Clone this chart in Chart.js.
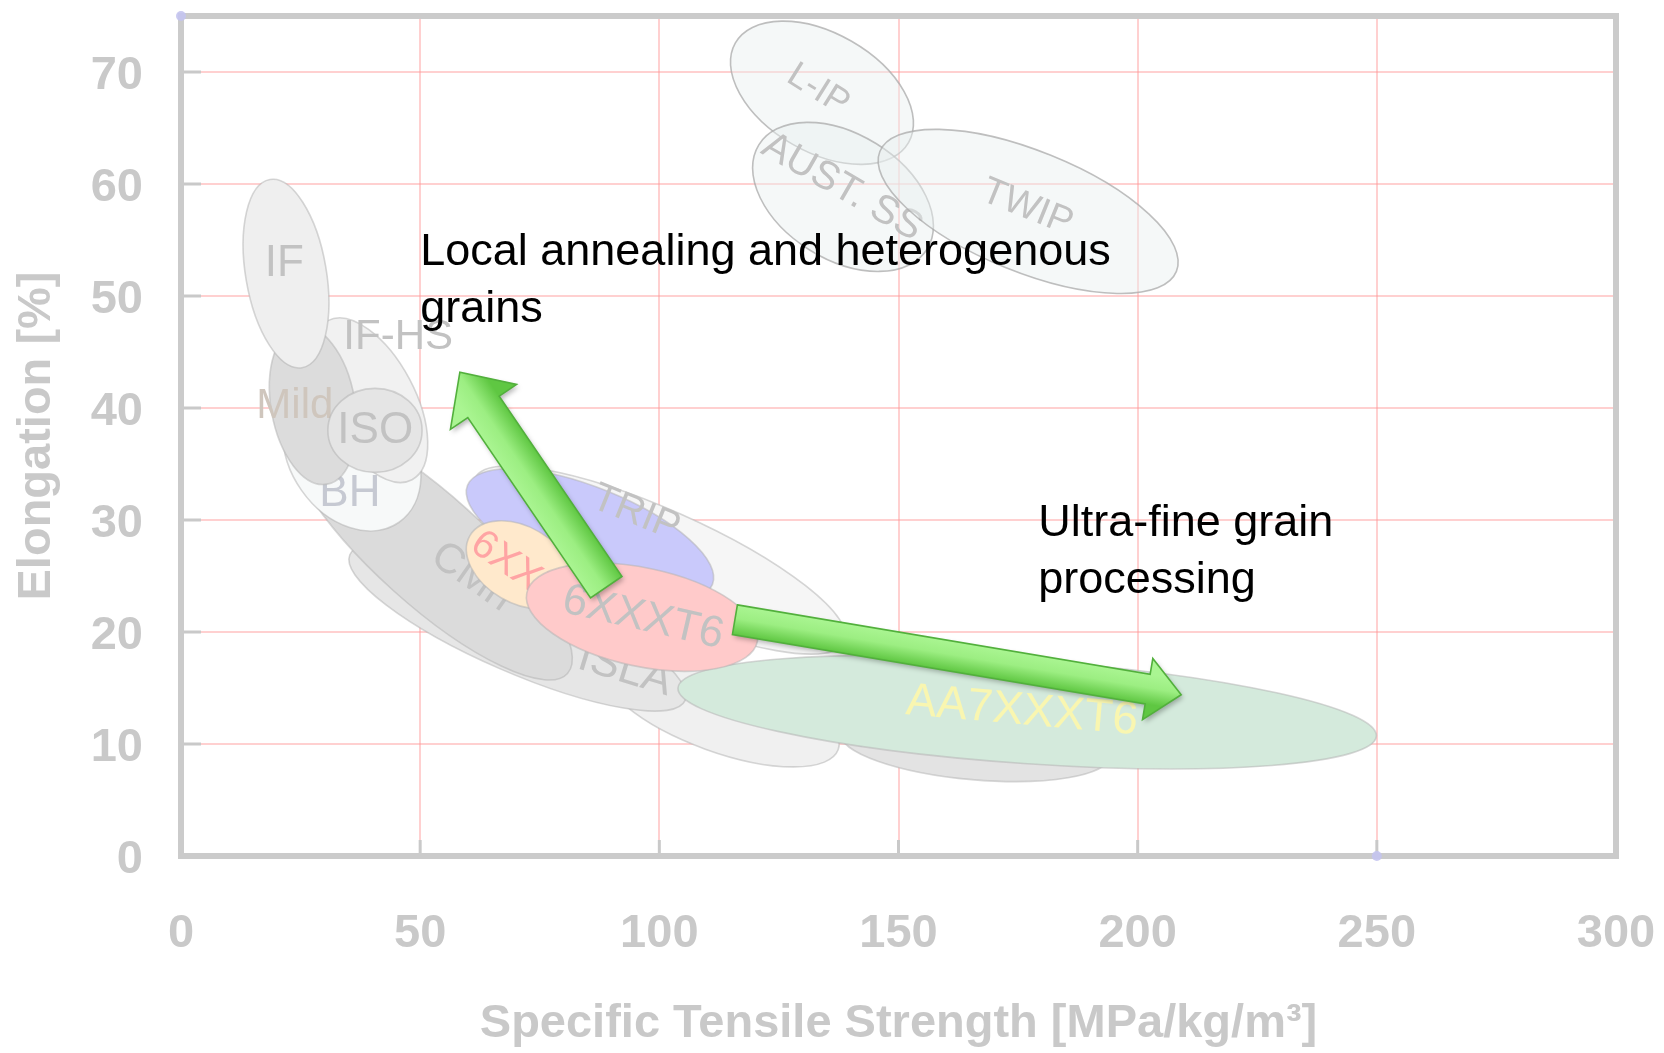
<!DOCTYPE html>
<html>
<head>
<meta charset="utf-8">
<script src="https://cdn.jsdelivr.net/npm/chart.js@4.4.1/dist/chart.umd.min.js"></script>
<style>
html,body{margin:0;padding:0;background:#fff;overflow:hidden;}
canvas{display:block;}
</style>
</head>
<body>
<canvas id="c" width="1664" height="1053" style="width:1664px;height:1053px"></canvas>
<script>
// ---------------- DATA ----------------
// Axis ticks
const xTicks = [0, 50, 100, 150, 200, 250, 300];
const yTicks = [0, 10, 20, 30, 40, 50, 60, 70];
const xTitle = 'Specific Tensile Strength [MPa/kg/m\u00B3]';
const yTitle = 'Elongation [%]';

// Stray series markers visible on the frame
const markerX = [0, 250];
const markerY = [75, 0];

// Property regions (ellipses): major-axis end points in data units
// (strength, elongation) and minor half-width in elongation units.
const regionNames = ['L-IP','AUST. SS','TWIP','MART','DP','HSS','ISLA','CMn','BH','IF-HS','Mild','IF','ISO','TRIP','6XXXT4','AA7XXXT6','6XXXT6'];
const regionX1 = [115.9, 120.8, 146.1, 137.9,  88.2,  61.5,  35.3, 23.3, 25.9, 30.7, 24.7, 18.6, 30.7,  59.9, 60.4, 103.9,  72.3];
const regionY1 = [ 72.6,  63.5,  62.9,  10.96, 17.1,  33.75, 26.9, 38.4, 41.8, 47.8, 47.3, 60.4, 38.0,  33.1, 28.6,  15.0,  23.5];
const regionX2 = [152.1, 156.0, 208.1, 194.1, 137.4, 138.8, 105.4, 80.8, 45.6, 48.3, 30.5, 25.3, 50.4, 111.1, 81.4, 249.9, 120.5];
const regionY2 = [ 63.7,  54.2,  52.2,   8.86,  9.5,  19.1,  13.9, 16.3, 29.8, 33.6, 33.2, 43.6, 38.0,  24.25,23.4,  10.7,  19.15];
const regionHalfWidth = [5.3, 5.6, 5.4, 3.1, 4.0, 4.5, 4.0, 4.9, 5.5, 4.0, 3.75, 3.6, 3.75, 4.2, 3.4, 4.6, 4.4];

// Region labels
const labelText  = ['L-IP','AUST. SS','TWIP','MART','ISLA','CMn','BH','IF-HS','Mild','IF','ISO','TRIP','6XXXT4','AA7XXXT6','6XXXT6'];
const labelX     = [133.2, 138.2, 176.9, 150.3, 92.8, 60.8, 35.3, 45.4, 23.8, 21.6, 40.6, 95.1, 74.2, 175.8, 96.6];
const labelY     = [ 68.4,  59.7,  57.9,  10.2, 16.6, 24.9, 32.3, 46.3, 40.1, 52.9, 38.0, 30.6, 24.4,  12.9, 21.25];
const labelAngle = [ 32, 30, 22, 5, 17, 35, 0, 0, 0, 0, 0, 22, 35, 5, 13];
const labelRegion = ['L-IP','AUST. SS','TWIP','MART','ISLA','CMn','BH','IF-HS','Mild','IF','ISO','TRIP','6XXXT4','AA7XXXT6','6XXXT6'];

// Annotation arrows (tail -> tip) in data units
const arrowTailX = [88.9, 115.8];
const arrowTailY = [24.0, 21.1];
const arrowTipX  = [58.3, 209.1];
const arrowTipY  = [43.2, 14.4];

// Annotation texts (anchor = first line baseline, data units)
const noteLines = [['Local annealing and heterogenous','grains'], ['Ultra-fine grain','processing']];
const noteX = [50, 179.2];
const noteY = [52.8, 28.6];

// ---------------- STYLES ----------------
const regionFill = {
  'L-IP':'rgba(232,240,240,0.45)','AUST. SS':'rgba(232,240,240,0.45)','TWIP':'rgba(232,240,240,0.45)',
  'MART':'#e3e3e3','DP':'#f0f0f0','HSS':'#f6f6f6','ISLA':'#e6e6e6','CMn':'#dbdbdb','BH':'#f7f9f9',
  'IF-HS':'#f1f1f1','Mild':'#dcdcdc','IF':'#efefef','ISO':'#e5e5e5','TRIP':'#c9c9fb','6XXXT4':'#ffe9cc',
  'AA7XXXT6':'#d4eadc','6XXXT6':'#ffcaca'
};
const regionStroke = {
  'L-IP':'rgba(170,170,170,0.75)','AUST. SS':'rgba(170,170,170,0.75)','TWIP':'rgba(170,170,170,0.75)'
};
const labelColor = {
  'Mild':'#cfc6bd','BH':'#c6c9d2','6XXXT4':'#ffa4a4','AA7XXXT6':'#f9f6b0','MART':'#c8c8d4'
};
const labelSize = {
  'L-IP':36,'AUST. SS':40,'TWIP':38,'MART':30,'ISLA':44,'CMn':42,'BH':44,'IF-HS':42,'Mild':42,'IF':44,'ISO':44,
  'TRIP':40,'6XXXT4':40,'AA7XXXT6':46,'6XXXT6':44
};
const GREY = '#c9c9c9';
const FONT = "'Liberation Sans', Arial, sans-serif";

// ---------------- DRAWING PLUGIN ----------------
function px(chart, x, y) {
  return [chart.scales.x.getPixelForValue(x), chart.scales.y.getPixelForValue(y)];
}

function drawRegion(chart, i) {
  const ctx = chart.ctx;
  const ys = chart.scales.y;
  const [ax, ay] = px(chart, regionX1[i], regionY1[i]);
  const [bx, by] = px(chart, regionX2[i], regionY2[i]);
  const cx = (ax + bx) / 2, cy = (ay + by) / 2;
  const a = Math.hypot(bx - ax, by - ay) / 2;
  const b = Math.abs(ys.getPixelForValue(0) - ys.getPixelForValue(regionHalfWidth[i]));
  const ang = Math.atan2(by - ay, bx - ax);
  const name = regionNames[i];
  ctx.save();
  ctx.beginPath();
  ctx.ellipse(cx, cy, a, b, ang, 0, Math.PI * 2);
  ctx.fillStyle = regionFill[name];
  ctx.fill();
  ctx.lineWidth = 1.6;
  ctx.strokeStyle = regionStroke[name] || 'rgba(180,180,180,0.55)';
  ctx.stroke();
  ctx.restore();
}

function drawLabel(chart, j) {
  const ctx = chart.ctx;
  const [x, y] = px(chart, labelX[j], labelY[j]);
  const t = labelText[j];
  ctx.save();
  ctx.translate(x, y);
  ctx.rotate(labelAngle[j] * Math.PI / 180);
  ctx.font = (labelSize[t] || 40) + 'px ' + FONT;
  ctx.fillStyle = labelColor[t] || '#c2c2c2';
  ctx.textAlign = 'center';
  ctx.textBaseline = 'middle';
  ctx.fillText(t, 0, 0);
  ctx.restore();
}

function drawArrow(chart, k, shaftW, headW, headL) {
  const ctx = chart.ctx;
  const [x1, y1] = px(chart, arrowTailX[k], arrowTailY[k]);
  const [x2, y2] = px(chart, arrowTipX[k], arrowTipY[k]);
  const ang = Math.atan2(y2 - y1, x2 - x1);
  const len = Math.hypot(x2 - x1, y2 - y1);
  ctx.save();
  ctx.translate(x1, y1);
  ctx.rotate(ang);
  ctx.beginPath();
  ctx.moveTo(0, -shaftW / 2);
  ctx.lineTo(len - headL, -shaftW / 2);
  ctx.lineTo(len - headL, -headW / 2);
  ctx.lineTo(len, 0);
  ctx.lineTo(len - headL, headW / 2);
  ctx.lineTo(len - headL, shaftW / 2);
  ctx.lineTo(0, shaftW / 2);
  ctx.closePath();
  const g = ctx.createLinearGradient(0, -shaftW / 2, 0, shaftW / 2);
  g.addColorStop(0, '#aaf592');
  g.addColorStop(0.45, '#9cee82');
  g.addColorStop(1, '#5fc742');
  ctx.shadowColor = 'rgba(0,0,0,0.28)';
  ctx.shadowBlur = 5;
  ctx.shadowOffsetX = 2;
  ctx.shadowOffsetY = 3;
  ctx.fillStyle = g;
  ctx.fill();
  ctx.shadowColor = 'transparent';
  ctx.lineWidth = 1.6;
  ctx.strokeStyle = '#52b03c';
  ctx.lineJoin = 'miter';
  ctx.stroke();
  ctx.restore();
}

const figurePlugin = {
  id: 'figure',
  beforeDatasetsDraw(chart) {
    const ctx = chart.ctx;
    const ca = chart.chartArea;
    const xs = chart.scales.x, ys = chart.scales.y;
    // inner tick marks
    ctx.save();
    ctx.strokeStyle = GREY;
    ctx.lineWidth = 3;
    yTicks.forEach(v => {
      const y = ys.getPixelForValue(v);
      ctx.beginPath(); ctx.moveTo(ca.left, y); ctx.lineTo(ca.left + 20, y); ctx.stroke();
    });
    xTicks.forEach(v => {
      const x = xs.getPixelForValue(v);
      ctx.beginPath(); ctx.moveTo(x, ca.bottom); ctx.lineTo(x, ca.bottom - 16); ctx.stroke();
    });
    // frame
    ctx.lineWidth = 6;
    ctx.strokeStyle = '#cbcbcb';
    ctx.strokeRect(ca.left, ca.top, ca.right - ca.left, ca.bottom - ca.top);
    ctx.restore();

    // regions and labels
    for (let i = 0; i < regionNames.length; i++) {
      drawRegion(chart, i);
      labelRegion.forEach((r, j) => { if (r === regionNames[i]) drawLabel(chart, j); });
    }
  },
  afterDatasetsDraw(chart) {
    const ctx = chart.ctx;
    drawArrow(chart, 0, 38, 80, 42);
    drawArrow(chart, 1, 30, 62, 34);
    ctx.save();
    ctx.font = '45px ' + FONT;
    ctx.fillStyle = '#000';
    ctx.textAlign = 'left';
    ctx.textBaseline = 'alphabetic';
    noteLines.forEach((lines, k) => {
      const [x, y] = px(chart, noteX[k], noteY[k]);
      lines.forEach((ln, m) => ctx.fillText(ln, x, y + m * 57));
    });
    ctx.restore();
  }
};

// ---------------- CHART ----------------
new Chart(document.getElementById('c'), {
  type: 'scatter',
  data: {
    datasets: [{
      data: markerX.map((x, i) => ({ x: x, y: markerY[i] })),
      pointRadius: 5,
      pointBackgroundColor: 'rgba(196,196,240,0.9)',
      pointBorderWidth: 0,
      clip: false
    }]
  },
  options: {
    responsive: false,
    animation: false,
    devicePixelRatio: 1,
    layout: { padding: { top: 16, right: 48, left: 0, bottom: 0 } },
    plugins: { legend: { display: false }, tooltip: { enabled: false } },
    scales: {
      x: {
        type: 'linear', min: xTicks[0], max: xTicks[xTicks.length - 1],
        afterBuildTicks(s) { s.ticks = xTicks.map(v => ({ value: v })); },
        afterFit(s) { s.height = 197; s.paddingLeft = 0; s.paddingRight = 0; },
        ticks: { color: GREY, padding: 50, maxRotation: 0, font: { family: FONT, size: 47, weight: 'bold' } },
        grid: { color: 'rgba(255,150,150,0.45)', lineWidth: 2, drawTicks: false },
        border: { display: false },
        title: { display: true, text: xTitle, color: GREY, padding: { top: 0, bottom: 1 },
                 font: { family: FONT, size: 47, weight: 'bold' } }
      },
      y: {
        type: 'linear', min: 0, max: 75,
        afterBuildTicks(s) { s.ticks = yTicks.map(v => ({ value: v })); },
        afterFit(s) { s.width = 181; s.paddingTop = 0; s.paddingBottom = 0; },
        ticks: { color: GREY, padding: 38, labelOffset: 4, font: { family: FONT, size: 47, weight: 'bold' } },
        grid: { color: 'rgba(255,150,150,0.45)', lineWidth: 2, drawTicks: false },
        border: { display: false },
        title: { display: true, text: yTitle, color: GREY, padding: { top: 9, bottom: 0 },
                 font: { family: FONT, size: 47, weight: 'bold' } }
      }
    }
  },
  plugins: [figurePlugin]
});
</script>
</body>
</html>
